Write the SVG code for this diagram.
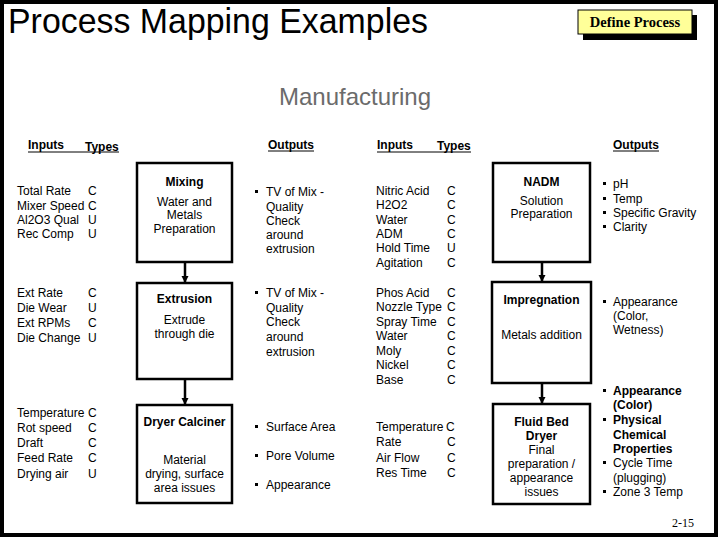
<svg xmlns="http://www.w3.org/2000/svg" width="720" height="540" viewBox="0 0 720 540">
<style>
text{font-family:"Liberation Sans",Arial,sans-serif;font-size:12px;fill:#000}
.hd{font-weight:bold}
.b{font-weight:bold}
.c{text-anchor:middle}
.box{fill:#fff;stroke:#000;stroke-width:2.5}
.ul{stroke:#000;stroke-width:1}
.bul{fill:#000}
.conn line{stroke:#000;stroke-width:2.5}
.serif{font-family:"Liberation Serif","Times New Roman",serif}
.title{font-size:35px}
.sub{font-size:24px;fill:#6b6b6b}
.btn{font-size:14.5px}
</style>
<defs>
<marker id="arr" markerUnits="userSpaceOnUse" markerWidth="8" markerHeight="8" refX="7" refY="4" orient="auto" viewBox="0 0 8 8">
<path d="M0,0.5 L7,4 L0,7.5 Z" fill="#000"/>
</marker>
</defs>
<rect x="0" y="0" width="720" height="540" fill="#fff"/>
<rect x="2" y="2" width="714" height="533" fill="none" stroke="#000" stroke-width="4"/>

<g id="title">
<text class="title" x="8" y="33" textLength="420" lengthAdjust="spacingAndGlyphs">Process Mapping Examples</text>
</g>
<g id="define-process">
<rect x="583" y="15" width="114" height="25" fill="#000"/>
<rect x="578" y="10" width="114" height="24" fill="#ffff99" stroke="#000" stroke-width="1"/>
<text class="serif b c btn" x="635" y="27">Define Process</text>
</g>
<g id="subtitle">
<text class="c sub" x="355" y="105">Manufacturing</text>
</g>

<g id="headers">
<text class="hd" x="28" y="149">Inputs</text>
<text class="hd" x="85" y="151">Types</text>
<line class="ul" x1="28" y1="152" x2="119" y2="152"/>
<text class="hd" x="268" y="149">Outputs</text>
<line class="ul" x1="268" y1="151" x2="314" y2="151"/>
<text class="hd" x="377" y="149">Inputs</text>
<text class="hd" x="437" y="150">Types</text>
<line class="ul" x1="377" y1="152" x2="471" y2="152"/>
<text class="hd" x="613" y="149">Outputs</text>
<line class="ul" x1="613" y1="151" x2="659" y2="151"/>
</g>

<!-- Left column inputs -->
<g id="inputs-mixing">
<text x="17" y="195">Total Rate</text><text x="88" y="195">C</text>
<text x="17" y="210">Mixer Speed</text><text x="88" y="210">C</text>
<text x="17" y="224">Al2O3 Qual</text><text x="88" y="224">U</text>
<text x="17" y="238">Rec Comp</text><text x="88" y="238">U</text>
</g>
<g id="inputs-extrusion">
<text x="17" y="297">Ext Rate</text><text x="88" y="297">C</text>
<text x="17" y="312">Die Wear</text><text x="88" y="312">U</text>
<text x="17" y="327">Ext RPMs</text><text x="88" y="327">C</text>
<text x="17" y="342">Die Change</text><text x="88" y="342">U</text>
</g>
<g id="inputs-dryer">
<text x="17" y="417">Temperature</text><text x="88" y="417">C</text>
<text x="17" y="432">Rot speed</text><text x="88" y="432">C</text>
<text x="17" y="447">Draft</text><text x="88" y="447">C</text>
<text x="17" y="462">Feed Rate</text><text x="88" y="462">C</text>
<text x="17" y="478">Drying air</text><text x="88" y="478">U</text>
</g>

<!-- Left column process boxes -->
<g id="mixing">
<rect class="box" x="137" y="163" width="95" height="99"/>
<text class="b c" x="184.5" y="186">Mixing</text>
<text class="c" x="184.5" y="206">Water and</text>
<text class="c" x="184.5" y="219">Metals</text>
<text class="c" x="184.5" y="233">Preparation</text>
</g>
<g id="extrusion">
<rect class="box" x="137" y="283" width="95" height="96"/>
<text class="b c" x="184.5" y="303">Extrusion</text>
<text class="c" x="184.5" y="324">Extrude</text>
<text class="c" x="184.5" y="338">through die</text>
</g>
<g id="dryer-calciner">
<rect class="box" x="137" y="405" width="95" height="98"/>
<text class="b c" x="184.5" y="426">Dryer Calciner</text>
<text class="c" x="184.5" y="464">Material</text>
<text class="c" x="184.5" y="478">drying, surface</text>
<text class="c" x="184.5" y="492">area issues</text>
</g>

<!-- Left outputs -->
<g id="outputs-mixing">
<rect class="bul" x="255" y="190" width="3" height="3"/>
<text x="266" y="196">TV of Mix -</text>
<text x="266" y="211">Quality</text>
<text x="266" y="225">Check</text>
<text x="266" y="239">around</text>
<text x="266" y="253">extrusion</text>
</g>
<g id="outputs-extrusion">
<rect class="bul" x="255" y="291" width="3" height="3"/>
<text x="266" y="297">TV of Mix -</text>
<text x="266" y="312">Quality</text>
<text x="266" y="326">Check</text>
<text x="266" y="341">around</text>
<text x="266" y="356">extrusion</text>
</g>
<g id="outputs-dryer">
<rect class="bul" x="255" y="425" width="3" height="3"/>
<text x="266" y="431">Surface Area</text>
<rect class="bul" x="255" y="454" width="3" height="3"/>
<text x="266" y="460">Pore Volume</text>
<rect class="bul" x="255" y="483" width="3" height="3"/>
<text x="266" y="489">Appearance</text>
</g>

<!-- Right column inputs -->
<g id="inputs-nadm">
<text x="376" y="195">Nitric Acid</text><text x="447" y="195">C</text>
<text x="376" y="209">H2O2</text><text x="447" y="209">C</text>
<text x="376" y="224">Water</text><text x="447" y="224">C</text>
<text x="376" y="238">ADM</text><text x="447" y="238">C</text>
<text x="376" y="252">Hold Time</text><text x="447" y="252">U</text>
<text x="376" y="267">Agitation</text><text x="447" y="267">C</text>
</g>
<g id="inputs-impregnation">
<text x="376" y="297">Phos Acid</text><text x="447" y="297">C</text>
<text x="376" y="311">Nozzle Type</text><text x="447" y="311">C</text>
<text x="376" y="326">Spray Time</text><text x="447" y="326">C</text>
<text x="376" y="340">Water</text><text x="447" y="340">C</text>
<text x="376" y="355">Moly</text><text x="447" y="355">C</text>
<text x="376" y="369">Nickel</text><text x="447" y="369">C</text>
<text x="376" y="384">Base</text><text x="447" y="384">C</text>
</g>
<g id="inputs-fluid-bed">
<text x="376" y="431">Temperature</text><text x="446" y="431">C</text>
<text x="376" y="446">Rate</text><text x="447" y="446">C</text>
<text x="376" y="462">Air Flow</text><text x="447" y="462">C</text>
<text x="376" y="477">Res Time</text><text x="447" y="477">C</text>
</g>

<!-- Right column process boxes -->
<g id="nadm">
<rect class="box" x="493" y="163" width="97" height="99"/>
<text class="b c" x="541.5" y="186">NADM</text>
<text class="c" x="541.5" y="205">Solution</text>
<text class="c" x="541.5" y="218">Preparation</text>
</g>
<g id="impregnation">
<rect class="box" x="492" y="282" width="99" height="101"/>
<text class="b c" x="541.5" y="304">Impregnation</text>
<text class="c" x="541.5" y="339">Metals addition</text>
</g>
<g id="fluid-bed-dryer">
<rect class="box" x="493" y="404" width="97" height="100"/>
<text class="b c" x="541.5" y="426">Fluid Bed</text>
<text class="b c" x="541.5" y="440">Dryer</text>
<text class="c" x="541.5" y="454">Final</text>
<text class="c" x="541.5" y="468">preparation /</text>
<text class="c" x="541.5" y="482">appearance</text>
<text class="c" x="541.5" y="496">issues</text>
</g>

<!-- Right outputs -->
<g id="outputs-nadm">
<rect class="bul" x="603" y="182" width="3" height="3"/>
<text x="613" y="188">pH</text>
<rect class="bul" x="603" y="197" width="3" height="3"/>
<text x="613" y="203">Temp</text>
<rect class="bul" x="603" y="211" width="3" height="3"/>
<text x="613" y="217">Specific Gravity</text>
<rect class="bul" x="603" y="225" width="3" height="3"/>
<text x="613" y="231">Clarity</text>
</g>
<g id="outputs-impregnation">
<rect class="bul" x="603" y="300" width="3" height="3"/>
<text x="613" y="306">Appearance</text>
<text x="613" y="320">(Color,</text>
<text x="613" y="334">Wetness)</text>
</g>
<g id="outputs-fluid-bed">
<rect class="bul" x="603" y="389" width="3" height="3"/>
<text class="b" x="613" y="395">Appearance</text>
<text class="b" x="613" y="409">(Color)</text>
<rect class="bul" x="603" y="418" width="3" height="3"/>
<text class="b" x="613" y="424">Physical</text>
<text class="b" x="613" y="439">Chemical</text>
<text class="b" x="613" y="453">Properties</text>
<rect class="bul" x="603" y="461" width="3" height="3"/>
<text x="613" y="467">Cycle Time</text>
<text x="613" y="482">(plugging)</text>
<rect class="bul" x="603" y="490" width="3" height="3"/>
<text x="613" y="496">Zone 3 Temp</text>
</g>

<g id="connectors" class="conn">
<line x1="185" y1="263" x2="185" y2="283" marker-end="url(#arr)"/>
<line x1="185" y1="380" x2="185" y2="405" marker-end="url(#arr)"/>
<line x1="542" y1="263" x2="542" y2="282" marker-end="url(#arr)"/>
<line x1="542" y1="384" x2="542" y2="404" marker-end="url(#arr)"/>
</g>

<g id="page-number">
<text class="serif" x="672" y="527">2-15</text>
</g>
</svg>
